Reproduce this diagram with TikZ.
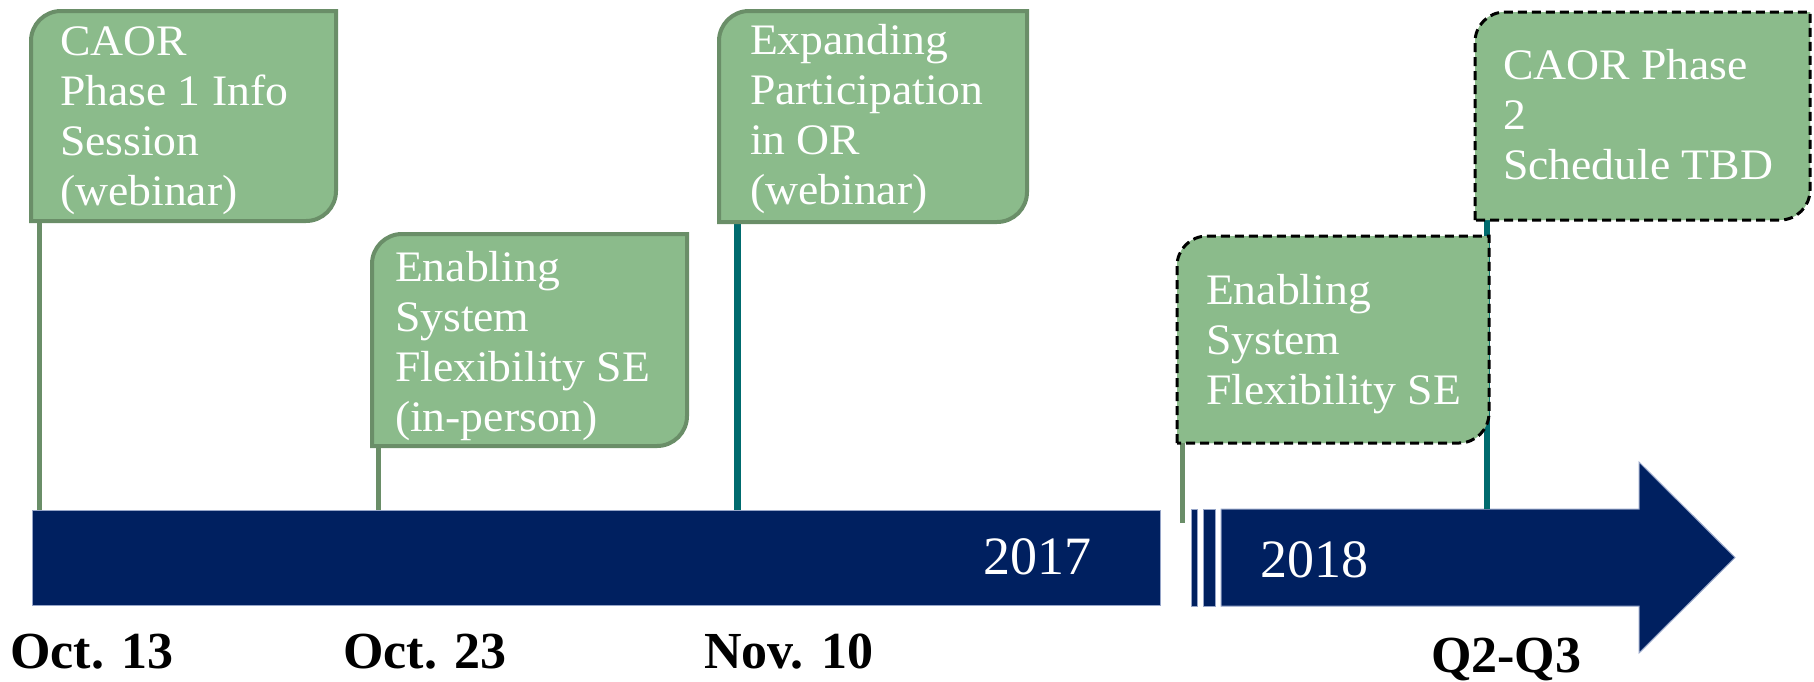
\documentclass[tikz,border=0pt]{standalone}
\usepackage{fontspec}
\setmainfont{Liberation Serif}
\newfontfamily\boxfont{Liberation Serif}[FakeStretch=1.05]
\usetikzlibrary{calc}
\definecolor{navy}{RGB}{0,32,96}
\definecolor{flagfill}{RGB}{139,187,139}
\definecolor{flagedge}{RGB}{106,142,104}
\definecolor{tealstemcol}{RGB}{0,107,110}
\definecolor{baredge}{RGB}{150,165,200}
\tikzset{
 flagbox/.style={rectangle, draw=none, inner sep=0pt, outer sep=0pt, anchor=north west},
 flagtext/.style={anchor=north west, inner sep=0pt, outer sep=0pt, align=left, text=white, font=\boxfont\fontsize{43.5}{50}\selectfont},
 solidedge/.style={draw=flagedge, line width=4pt, fill=flagfill},
 dashedge/.style={draw=black, line width=3pt, dash pattern=on 9pt off 5pt, fill=flagfill},
 greenstem/.style={draw=flagedge, line width=5pt},
 tealstem/.style={draw=tealstemcol, line width=7pt},
 barbox/.style={rectangle, fill=navy, draw=baredge, line width=1pt, inner sep=0pt, outer sep=0pt, anchor=north west},
 datelabel/.style={anchor=base west, inner sep=0pt, font=\fontsize{52}{60}\selectfont\bfseries, text=black},
 yearlabel/.style={anchor=base west, inner sep=0pt, font=\fontsize{54}{60}\selectfont, text=white},
}
\newcommand\flagoutline[2]{%
  \path[#1] (#2.south west) -- ($(#2.north west)+(0,30)$) arc[start angle=180, end angle=270, radius=30]
   -- (#2.north east) -- ($(#2.south east)+(0,-30)$) arc[start angle=0, end angle=90, radius=30] -- cycle;}
\begin{document}
\begin{tikzpicture}[x=1pt,y=-1pt]
\useasboundingbox (0,0) rectangle (1814,681);

% flag geometry
\node[flagbox, minimum width=305pt, minimum height=210pt] (b1) at (31,11) {};
\node[flagbox, minimum width=315pt, minimum height=212pt] (b2) at (372,234) {};
\node[flagbox, minimum width=308pt, minimum height=211pt] (b3) at (719,11) {};
\node[flagbox, minimum width=312pt, minimum height=207pt] (b4) at (1177,236) {};
\node[flagbox, minimum width=335pt, minimum height=208pt] (b5) at (1475,12) {};

% timeline bars
\node[barbox, minimum width=1128pt, minimum height=95pt] (bar17) at (32,510) {};
\node[barbox, minimum width=6pt, minimum height=97pt] (strip1) at (1191,509) {};
\node[barbox, minimum width=12pt, minimum height=97pt] (strip2) at (1203,509) {};
\path[fill=navy, draw=baredge, line width=1pt] (1221,509) -- (1639,509) -- (1639,462) -- (1735,557.5)
  -- (1639,653) -- (1639,606) -- (1221,606) -- cycle;
\coordinate (arrowtop) at (1487,509);
\coordinate (gapend) at (1182,523);

% flag fills
\flagoutline{fill=flagfill}{b1}
\flagoutline{fill=flagfill}{b2}
\flagoutline{fill=flagfill}{b3}
\flagoutline{fill=flagfill}{b4}
\flagoutline{fill=flagfill}{b5}

% stems
\draw[greenstem] ([xshift=8pt]b1.south west) -- ([xshift=8pt]b1.south west |- bar17.north);
\draw[greenstem] ([xshift=6pt]b2.south west) -- ([xshift=6pt]b2.south west |- bar17.north);
\draw[tealstem] ([xshift=18pt]b3.south west) -- ([xshift=18pt]b3.south west |- bar17.north);
\draw[greenstem] ([xshift=5pt]b4.south west) -- (gapend);
\draw[tealstem, line width=6pt] ([xshift=12pt]b5.south west) -- (arrowtop);

% flag outlines
\flagoutline{solidedge}{b1}
\flagoutline{solidedge}{b2}
\flagoutline{solidedge}{b3}
\flagoutline{dashedge}{b4}
\flagoutline{dashedge}{b5}

% flag texts
\node[flagtext] (t1) at (60,23) {\rule{0pt}{32pt}CAOR\\Phase 1 Info\\Session\\(webinar)};
\node[flagtext] (t2) at (395,249) {\rule{0pt}{32pt}Enabling\\System\\Flexibility SE\\(in-person)};
\node[flagtext] (t3) at (750,22) {\rule{0pt}{32pt}Expanding\\Participation\\in OR\\(webinar)};
\node[flagtext] (t4) at (1206,272) {\rule{0pt}{32pt}Enabling\\System\\Flexibility SE};
\node[flagtext] (t5) at (1503,47) {\rule{0pt}{32pt}CAOR Phase\\2\\Schedule TBD};

% year labels
\node[yearlabel] (y17) at (983,574) {2017};
\node[yearlabel] (y18) at (1260,577) {2018};

% date labels
\node[datelabel] (d1) at (10,668) {Oct. 13};
\node[datelabel] (d2) at (343,668) {Oct. 23};
\node[datelabel] (d3) at (704,668) {Nov. 10};
\node[datelabel] (d4) at (1431,672) {Q2-Q3};
\end{tikzpicture}
\end{document}
